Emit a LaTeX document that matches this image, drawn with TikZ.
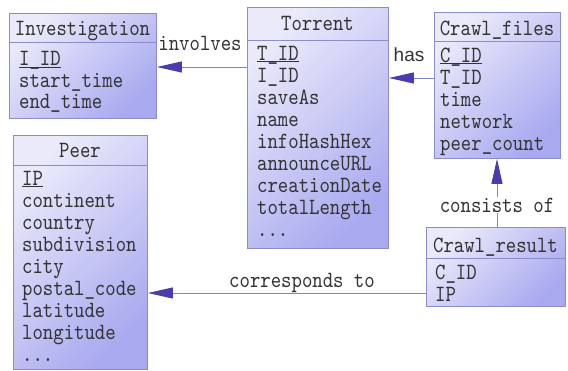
\documentclass[tikz,border=0pt]{standalone}
\usepackage{fontspec}
\usetikzlibrary{arrows.meta}
\newfontfamily\mono{lmmono10-regular.otf}[FakeStretch=0.85]
\newfontfamily\lsans{Liberation Sans}
\newcommand\mydots{...}
\newcommand\keyul[1]{\setbox0\hbox{#1}\rlap{\rule[-2.2pt]{\wd0}{0.9pt}}\box0}
\definecolor{boxL}{HTML}{EAEAFB}
\definecolor{boxR}{HTML}{A9A9F0}
\definecolor{boxD}{HTML}{8C8CC6}
\definecolor{lineC}{HTML}{8484C4}
\definecolor{tipC}{HTML}{4A3CAE}
\definecolor{txtC}{HTML}{333333}
\tikzset{
  entity/.style={draw=boxD, line width=0.9pt, top color=boxL, bottom color=boxR, shading angle=45,
    anchor=north west, inner sep=0pt},
  title/.style={anchor=base, inner sep=0pt, text=txtC, font=\mono\fontsize{23.3pt}{22pt}\selectfont},
  fieldline/.style={anchor=base west, inner sep=0pt, text=txtC, font=\mono\fontsize{23.3pt}{22pt}\selectfont},
  sep/.style={draw=boxD, line width=0.9pt},
  conn/.style={draw=lineC, line width=1pt, -{Triangle[length=25pt,width=11pt,fill=tipC,color=tipC]}},
  lbl/.style={inner sep=0pt, text=txtC, font=\mono\fontsize{23.3pt}{22pt}\selectfont},
}
\begin{document}
\begin{tikzpicture}[x=1pt,y=-1pt]
\useasboundingbox (0,0) rectangle (568,370);
% Investigation
\node[entity, minimum width=147pt, minimum height=105pt] (inv) at (9,13) {};
\draw[sep] (9,42) -- (156,42);
\node[title] (invt) at (82.5,35) {Investigation};
\foreach \t [count=\i from 0] in {{\keyul{I\_ID}},start\_time,end\_time}
  \node[fieldline] (invf\i) at (19,65.5+21.5*\i) {\t};
% Torrent
\node[entity, minimum width=141pt, minimum height=241pt] (tor) at (247,7) {};
\draw[sep] (247,40) -- (388,40);
\node[title] (tort) at (317.5,30) {Torrent};
\foreach \t [count=\i from 0] in {{\keyul{T\_ID}},I\_ID,saveAs,name,infoHashHex,announceURL,creationDate,totalLength,\mydots}
  \node[fieldline] (torf\i) at (257,60+22*\i) {\t};
% Crawl_files
\node[entity, minimum width=126pt, minimum height=146pt] (cf) at (434,12) {};
\draw[sep] (434,41) -- (560,41);
\node[title] (cft) at (497,35) {Crawl\_files};
\foreach \t [count=\i from 0] in {{\keyul{C\_ID}},T\_ID,time,network,peer\_count}
  \node[fieldline] (cff\i) at (440,62+22*\i) {\t};
% Peer
\node[entity, minimum width=134pt, minimum height=234pt] (peer) at (13,135) {};
\draw[sep] (13,165) -- (147,165);
\node[title] (peert) at (80,157) {Peer};
\foreach \t [count=\i from 0] in {{\keyul{IP}},continent,country,subdivision,city,postal\_code,latitude,longitude,\mydots}
  \node[fieldline] (peerf\i) at (22,185+22.1*\i) {\t};
% Crawl_result
\node[entity, minimum width=139pt, minimum height=79pt] (cr) at (426,227) {};
\draw[sep] (426,258) -- (565,258);
\node[title] (crt) at (495.5,252) {Crawl\_result};
\foreach \t [count=\i from 0] in {C\_ID,IP}
  \node[fieldline] (crf\i) at (435,279+22*\i) {\t};
% connectors
\coordinate (yinv) at (0,67);
\coordinate (yhas) at (0,78);
\coordinate (xcons) at (497,0);
\coordinate (ycor) at (0,293);
\draw[conn] (tor.west |- yinv) -- (inv.east |- yinv);
\draw[conn] (cf.west |- yhas) -- (tor.east |- yhas);
\draw[conn] (cr.north -| xcons) -- (cf.south -| xcons);
\draw[conn] (cr.west |- ycor) -- (peer.east |- ycor);
% labels
\node[lbl] (l1) at (200,43) {involves};
\node[inner sep=0pt, text=txtC, font=\lsans\fontsize{19pt}{22pt}\selectfont] (l2) at (409,55) {has};
\node[lbl, fill=white, inner sep=1pt] (l3) at (497,205) {consists of};
\node[lbl] (l4) at (302,283) {corresponds to};
\end{tikzpicture}
\end{document}
